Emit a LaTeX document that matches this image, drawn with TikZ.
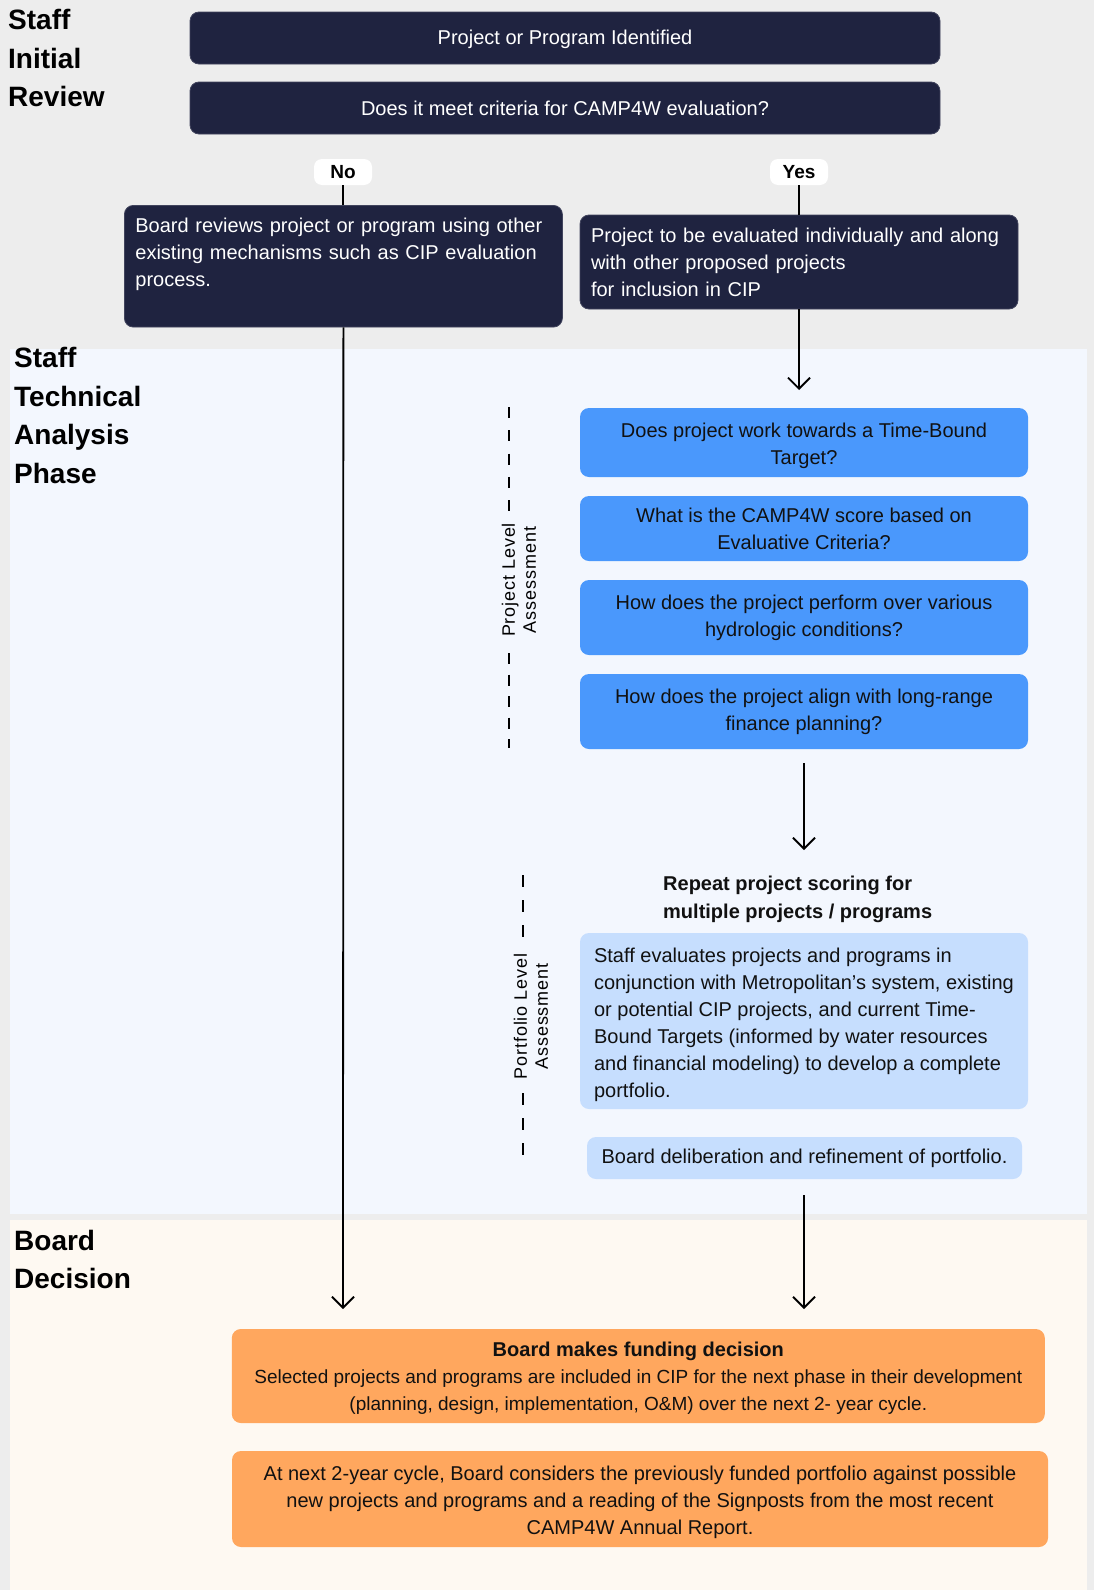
\documentclass[tikz,border=0pt]{standalone}
\usepackage{fontspec}
\setmainfont{Liberation Sans}
\newfontfamily\rotfont[LetterSpace=5]{Liberation Sans}
\usetikzlibrary{arrows.meta}
\definecolor{bggrey}{HTML}{EDEDED}
\definecolor{bgblue}{HTML}{F3F7FE}
\definecolor{bgcream}{HTML}{FEF9F2}
\definecolor{navy}{HTML}{1F2340}
\definecolor{qblue}{HTML}{4A98FC}
\definecolor{lblue}{HTML}{C6DEFE}
\definecolor{orng}{HTML}{FFA75E}
\definecolor{ink}{HTML}{111111}
\newcommand{\lift}[1]{\rule{0pt}{#1}}
\begin{document}
\begin{tikzpicture}[x=1pt,y=-1pt,
  body/.style={font=\fontsize{20}{27}\selectfont},
  phase/.style={font=\bfseries\fontsize{28}{38.5}\selectfont, text=black, align=left, inner sep=0pt, anchor=west},
  navybox/.style={body, fill=navy, draw=navy!85!white, line width=0.8pt, text=white, rounded corners=9pt, inner sep=0pt, align=center},
  bluebox/.style={body, fill=qblue, text=ink, rounded corners=9pt, inner sep=0pt, align=center, minimum width=448pt},
  lbbox/.style={body, fill=lblue, text=ink, rounded corners=9pt, inner sep=0pt},
  orbox/.style={body, fill=orng, text=ink, rounded corners=9pt, inner sep=0pt, align=center},
  pill/.style={fill=white, text=black, rounded corners=8pt, minimum width=58pt, minimum height=26pt, inner sep=0pt, font=\bfseries\fontsize{19}{22}\selectfont},
  conn/.style={line width=1.8pt, draw=black},
  arr/.style={conn, -{Straight Barb[length=11pt,width=22pt,line width=1.8pt]}},
  dashline/.style={line width=2pt, draw=black, dash pattern=on 11pt off 12.3pt},
  dashlinec/.style={line width=2pt, draw=black, dash pattern=on 11pt off 10.5pt},
  dashlineb/.style={line width=2pt, draw=black, dash pattern=on 12pt off 13pt},
  rotlabel/.style={font=\rotfont\fontsize{18}{21}\selectfont, align=center, rotate=90, inner sep=0pt}
]
\useasboundingbox (0,0) rectangle (1094,1590);
% backgrounds
\fill[bggrey] (0,0) rectangle (1094,1590);
\fill[bgblue] (10,349) rectangle (1087,1214);
\fill[bgcream] (10,1220) rectangle (1087,1590);

% phase labels
\node[phase] (ph1) at (8,58.3) {Staff\\Initial\\Review};
\node[phase] (ph2) at (14,415.3) {Staff\\Technical\\Analysis\\Phase};
\node[phase] (ph3) at (14,1259.3) {Board\\Decision};

% initial review
\node[navybox, minimum width=750pt, minimum height=52pt] (b1) at (565,38) {\lift{18pt}Project or Program Identified};
\node[navybox, minimum width=750pt, minimum height=52pt] (b2) at (565,108) {Does it meet criteria for CAMP4W evaluation?};
\node[pill] (noP) at (343,172) {No};
\node[pill] (yesP) at (799,172) {Yes};
\node[navybox, align=left, anchor=north west, text width=416pt, inner xsep=11pt, inner ysep=12.6pt] (noB) at (124,205)
  {Board reviews project or program using other\\existing mechanisms such as CIP evaluation\\process.\rule[-28pt]{0pt}{28pt}};
\node[navybox, align=left, text width=416pt, inner xsep=11pt, minimum height=94pt] (yesB) at (799,262)
  {Project to be evaluated individually and along\\with other proposed projects\\for inclusion in CIP};

\draw[conn] (noP.south) -- (noP.south |- noB.north);
\draw[conn] (yesP.south) -- (yesP.south |- yesB.north);

% technical analysis
\node[bluebox, minimum height=69pt] (q1) at (804,442.5) {\lift{20.6pt}Does project work towards a Time-Bound\\Target?};
\node[bluebox, minimum height=65pt] (q2) at (804,528.5) {What is the CAMP4W score based on\\Evaluative Criteria?};
\node[bluebox, minimum height=75pt] (q3) at (804,617.5) {How does the project perform over various\\hydrologic conditions?};
\node[bluebox, minimum height=75pt] (q4) at (804,711.5) {How does the project align with long-range\\finance planning?};

\coordinate (yesEnd) at (799,390);
\draw[arr] (yesB.south) -- (yesEnd);

% project level bracket
\coordinate (d1a) at (509,407);
\coordinate (d1b) at (509,511);
\coordinate (d1c) at (509,653);
\coordinate (d1d) at (509,748);
\draw[dashline] (d1a) -- (d1b);
\draw[dashlinec] (d1c) -- (d1d);
\node[rotlabel] (pla) at (519,580) {Project Level\\Assessment};

\coordinate (a2s) at (804,763);
\coordinate (a2e) at (804,850);
\draw[arr] (a2s) -- (a2e);

\node[font=\bfseries\fontsize{20}{28}\selectfont, align=left, inner sep=0pt, anchor=west, text=ink] (rep) at (663,899)
  {Repeat project scoring for\\multiple projects / programs};

\node[lbbox, align=left, minimum width=448pt, minimum height=176pt] (lb) at (804,1021)
  {\lift{22.6pt}Staff evaluates projects and programs in\\conjunction with Metropolitan's system, existing\\or potential CIP projects, and current Time-\\Bound Targets (informed by water resources\\and financial modeling) to develop a complete\\portfolio.};
\node[lbbox, align=center, minimum width=435pt, minimum height=42pt] (delib) at (804.5,1158)
  {Board deliberation and refinement of portfolio.};

% portfolio level bracket
\coordinate (d2a) at (523,875);
\coordinate (d2b) at (523,938);
\coordinate (d2c) at (523,1093);
\coordinate (d2d) at (523,1155);
\draw[dashlineb] (d2a) -- (d2b);
\draw[dashlineb] (d2c) -- (d2d);
\node[rotlabel] (pfa) at (531,1016.5) {Portfolio Level\\Assessment};

% board decision
\coordinate (a3s) at (804,1195);
\coordinate (a3e) at (804,1309);
\draw[arr] (a3s) -- (a3e);
\coordinate (noEnd) at (343,1309);
\draw[arr] (noB.south) -- (noEnd);

\node[orbox, minimum width=813pt, minimum height=94pt] (or1) at (638.3,1376)
  {\lift{18.6pt}\textbf{Board makes funding decision}\\\fontsize{19}{27}\selectfont Selected projects and programs are included in CIP for the next phase in their development\\\fontsize{19}{27}\selectfont(planning, design, implementation, O\&M) over the next 2- year cycle.};
\node[orbox, minimum width=816pt, minimum height=96pt] (or2) at (640,1499)
  {\lift{20.6pt}At next 2-year cycle, Board considers the previously funded portfolio against possible\\new projects and programs and a reading of the Signposts from the most recent\\CAMP4W Annual Report.};
\end{tikzpicture}
\end{document}
